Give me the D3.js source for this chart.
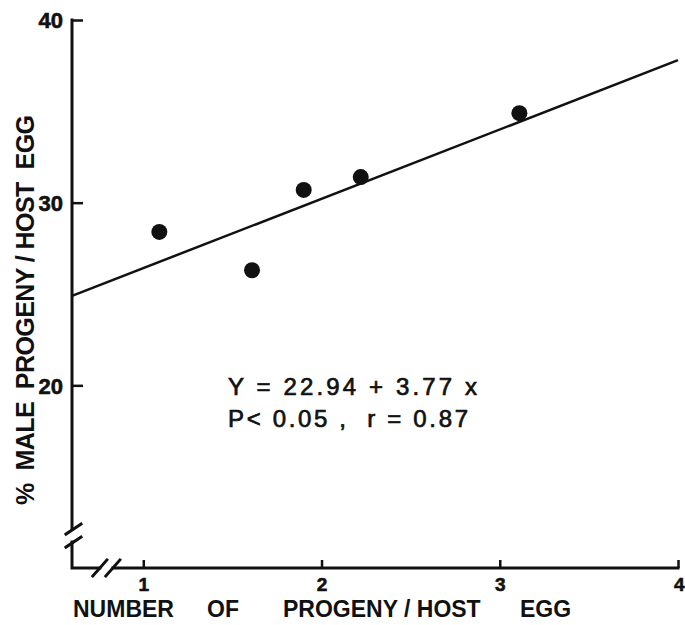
<!DOCTYPE html>
<html>
<head>
<meta charset="utf-8">
<script src="https://cdn.jsdelivr.net/npm/d3@7"></script>
<style>
  body { margin: 0; background: #fff; }
  svg { display: block; }
  .axis text { font-family: "Liberation Sans", Arial, sans-serif; font-weight: bold; fill: #111; stroke: #111; stroke-width: 0.6; }
  .lbl { font-family: "Liberation Sans", Arial, sans-serif; font-weight: bold; fill: #111; white-space: pre; }
  .eq { font-family: "Liberation Sans", Arial, sans-serif; fill: #111; stroke: #111; stroke-width: 0.7; white-space: pre; }
</style>
</head>
<body>
<script>
var width = 685,
    height = 625;

var progeny = [1.09, 1.61, 1.90, 2.22, 3.11];
var malePct = [28.4, 26.3, 30.7, 31.4, 34.9];

// fitted line as drawn (end points)
var fitX = [0.6, 4.0];
var fitY = [24.9, 37.8];

var xTicks = [1, 2, 3, 4];
var yTicks = [20, 30, 40];

var xLabelWords = ["NUMBER", "OF", "PROGENY / HOST", "EGG"];
var yLabel = "%  MALE  PROGENY / HOST  EGG";
var eqLines = ["Y = 22.94 + 3.77 x", "P< 0.05 ,  r = 0.87"];

var x = d3.scaleLinear().domain([0.6, 4]).range([72, 678]);
var y = d3.scaleLinear().domain([10, 40]).range([568, 20]);

var svg = d3.select("body").append("svg")
    .attr("width", width)
    .attr("height", height);

// y axis ticks (pointing inward), domain drawn by hand for the break
var yAxis = svg.append("g")
    .attr("class", "axis")
    .attr("transform", "translate(" + x(0.6) + ",0)")
    .call(d3.axisLeft(y).tickValues(yTicks).tickFormat(d3.format("d"))
      .tickSizeInner(-11).tickSizeOuter(0).tickPadding(9));
yAxis.select(".domain").remove();
yAxis.selectAll(".tick line").attr("stroke", "#111").attr("stroke-width", 2.5);
yAxis.selectAll(".tick text").attr("font-size", 22).attr("dy", "0.36em");

var xAxis = svg.append("g")
    .attr("class", "axis")
    .attr("transform", "translate(0," + y(10) + ")")
    .call(d3.axisBottom(x).tickValues(xTicks).tickFormat(d3.format("d"))
      .tickSizeInner(-8).tickSizeOuter(0).tickPadding(10));
xAxis.select(".domain").remove();
xAxis.selectAll(".tick line").attr("stroke", "#111").attr("stroke-width", 2.5);
xAxis.selectAll(".tick text").attr("font-size", 19);
// last label sits on the right edge; keep it inside the page
xAxis.selectAll(".tick text").filter(function(d) { return d === 4; })
    .attr("text-anchor", "end").attr("x", 6);

// axis lines with breaks
var ax = x(0.6), ay = y(10);
var yBreak = 11.8, xBreak = 0.79;
var axes = svg.append("g")
    .attr("fill", "none")
    .attr("stroke", "#111")
    .attr("stroke-width", 3)
    .attr("stroke-linecap", "square");
axes.append("path").attr("d", "M" + ax + "," + y(40) + "V" + (y(yBreak) - 6));
axes.append("path").attr("d", "M" + ax + "," + (y(yBreak) + 7) + "V" + ay + "H" + (x(xBreak) - 6));
axes.append("path").attr("d", "M" + (x(xBreak) + 7) + "," + ay + "H" + x(4));
[-6, 7].forEach(function(o) {
  var cy = y(yBreak) + o;
  axes.append("path").attr("d", "M" + (ax - 6) + "," + (cy + 5) + "L" + (ax + 9) + "," + (cy - 5));
  var cx = x(xBreak) + o;
  axes.append("path").attr("d", "M" + (cx - 7) + "," + (ay + 8) + "L" + (cx + 7) + "," + (ay - 8));
});

// regression line
var line = d3.line()
    .x(function(d) { return x(d[0]); })
    .y(function(d) { return y(d[1]); });
svg.append("path")
    .datum(d3.zip(fitX, fitY))
    .attr("fill", "none")
    .attr("stroke", "#111")
    .attr("stroke-width", 2.5)
    .attr("d", line);

// points
svg.selectAll(".pt")
    .data(d3.zip(progeny, malePct))
  .enter().append("circle")
    .attr("class", "pt")
    .attr("cx", function(d) { return x(d[0]); })
    .attr("cy", function(d) { return y(d[1]); })
    .attr("r", 8)
    .attr("fill", "#111");

// axis titles
var wordX = [73, 207, 283, 520];
svg.selectAll(".xlbl")
    .data(xLabelWords)
  .enter().append("text")
    .attr("class", "lbl")
    .attr("x", function(d, i) { return wordX[i]; })
    .attr("y", 617)
    .attr("font-size", 23)
    .text(function(d) { return d; });

svg.append("text")
    .attr("class", "lbl")
    .attr("transform", "translate(34,310) rotate(-90)")
    .attr("text-anchor", "middle")
    .attr("textLength", 390)
    .attr("lengthAdjust", "spacing")
    .attr("font-size", 25)
    .text(yLabel);

// equation
svg.selectAll(".eq")
    .data(eqLines)
  .enter().append("text")
    .attr("class", "eq")
    .attr("x", 228)
    .attr("y", function(d, i) { return 395 + i * 32; })
    .attr("textLength", function(d, i) { return i ? 240 : 249; })
    .attr("lengthAdjust", "spacing")
    .attr("font-size", 24)
    .text(function(d) { return d; });
</script>
</body>
</html>
